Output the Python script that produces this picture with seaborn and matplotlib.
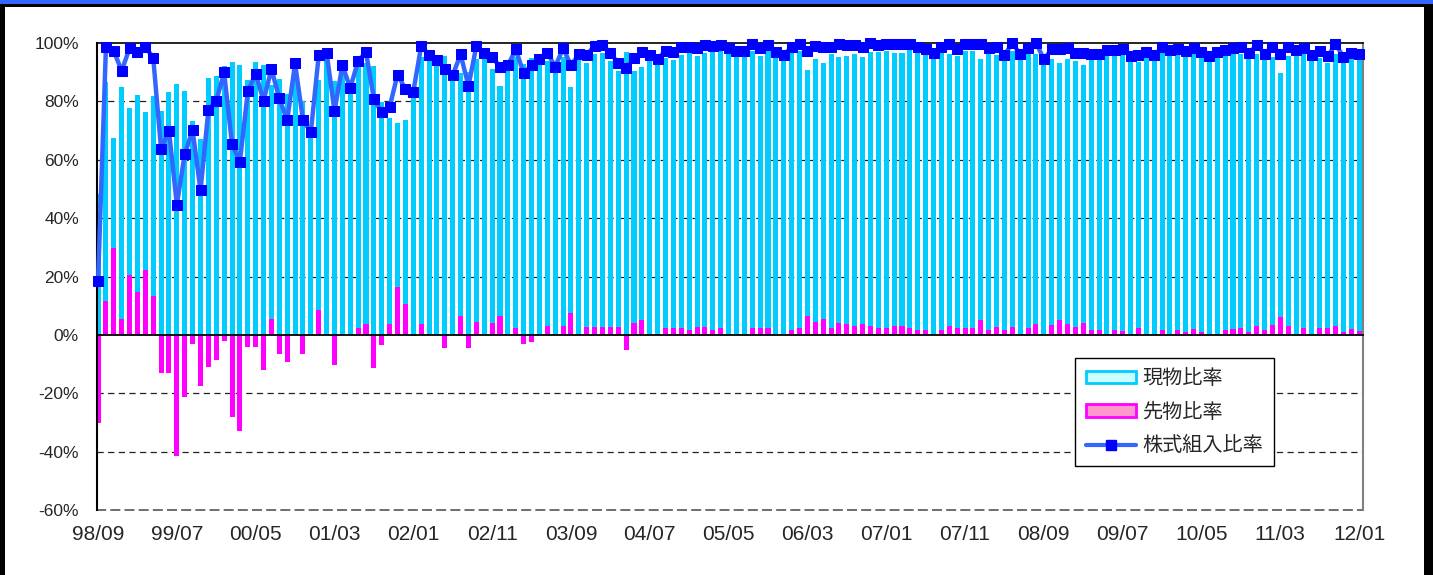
import numpy as np
import matplotlib.pyplot as plt
import seaborn as sns
from matplotlib.patches import Patch, Rectangle
from matplotlib.lines import Line2D

# monthly data 98/09 - 12/01 (percent)
tick_labels = ['98/09', '99/07', '00/05', '01/03', '02/01', '02/11', '03/09', '04/07', '05/05',
               '06/03', '07/01', '07/11', '08/09', '09/07', '10/05', '11/03', '12/01']

genbutsu = [48.4, 86.8, 67.6, 84.9, 77.7, 82.2, 76.4, 81.8, 76.7, 83.1,
            86.1, 83.4, 73.3, 67.0, 88.0, 88.8, 92.0, 93.4, 92.4, 87.4,
            93.5, 92.3, 85.5, 87.6, 82.7, 93.0, 80.0, 69.5, 87.3, 96.7,
            87.0, 92.4, 84.6, 91.7, 93.2, 92.0, 79.7, 74.2, 72.7, 73.7,
            83.8, 95.3, 95.9, 94.2, 95.4, 89.0, 89.6, 89.9, 94.5, 96.7,
            91.0, 85.4, 92.4, 95.3, 92.8, 95.0, 94.4, 93.7, 91.9, 95.2,
            84.8, 96.1, 93.2, 96.4, 96.6, 94.0, 90.3, 96.8, 90.5, 91.8,
            95.9, 94.4, 94.9, 94.3, 96.0, 96.9, 95.5, 96.6, 97.4, 97.1,
            98.2, 97.3, 97.4, 97.2, 95.7, 97.1, 96.8, 95.9, 97.0, 97.4,
            90.7, 94.4, 93.2, 96.4, 95.3, 95.7, 96.2, 95.1, 96.8, 97.0,
            97.4, 96.5, 96.7, 97.6, 97.0, 96.2, 96.5, 97.0, 96.4, 95.6,
            97.4, 97.3, 94.5, 96.8, 95.9, 94.2, 97.2, 96.2, 96.2, 96.2,
            94.5, 94.4, 93.0, 94.4, 93.9, 92.4, 94.4, 94.4, 97.5, 95.9,
            96.7, 95.5, 93.6, 97.0, 95.8, 96.8, 97.5, 96.2, 96.2, 96.4,
            95.9, 95.5, 96.8, 95.9, 96.2, 96.2, 95.5, 96.4, 94.7, 95.3,
            89.8, 95.5, 97.5, 96.2, 96.0, 94.7, 93.0, 96.4, 94.2, 94.7,
            94.7]

sakimono = [-30.1, 11.7, 29.6, 5.6, 20.5, 14.8, 22.2, 13.2, -13.1, -13.1,
            -41.5, -21.4, -3.2, -17.5, -11.0, -8.6, -2.1, -28.1, -33.0, -4.0,
            -4.0, -12.1, 5.6, -6.6, -9.2, 0.0, -6.5, 0.0, 8.5, 0.0,
            -10.4, 0.0, 0.0, 2.2, 3.7, -11.2, -3.5, 3.9, 16.5, 10.5,
            -0.5, 3.7, 0.0, 0.0, -4.4, 0.0, 6.5, -4.6, 4.5, 0.0,
            4.1, 6.5, 0.0, 2.5, -3.2, -2.6, 0.0, 3.0, 0.0, 3.0,
            7.6, 0.0, 2.7, 2.7, 2.7, 2.7, 2.7, -5.2, 4.2, 5.2,
            0.0, 0.0, 2.5, 2.5, 2.5, 1.6, 2.7, 2.7, 1.7, 2.2,
            0.0, 0.0, 0.0, 2.5, 2.5, 2.2, 0.0, 0.0, 1.6, 2.4,
            6.5, 4.5, 5.6, 2.3, 4.2, 3.7, 3.1, 3.7, 3.1, 2.2,
            2.2, 3.2, 3.1, 2.2, 1.7, 1.6, 0.0, 1.6, 3.1, 2.3,
            2.3, 2.3, 5.0, 1.6, 2.7, 1.7, 2.7, 0.0, 2.2, 3.8,
            0.0, 3.4, 5.0, 3.9, 2.7, 4.2, 1.7, 1.7, 0.0, 1.6,
            1.4, 0.0, 2.2, 0.0, 0.0, 1.7, 0.0, 1.7, 1.0, 2.0,
            1.0, 0.0, 0.0, 1.7, 2.0, 2.3, 1.0, 2.9, 1.7, 3.4,
            6.3, 3.2, 0.0, 2.2, 0.0, 2.4, 2.4, 3.2, 1.1, 2.0,
            1.4]

kumiire = [18.3, 98.5, 97.2, 90.5, 98.2, 97.0, 98.6, 95.0, 63.6, 70.0,
           44.6, 62.0, 70.1, 49.5, 77.0, 80.2, 89.9, 65.3, 59.4, 83.4,
           89.5, 80.2, 91.1, 81.0, 73.5, 93.0, 73.5, 69.5, 95.8, 96.7,
           76.6, 92.4, 84.6, 93.9, 96.9, 80.8, 76.2, 78.1, 89.2, 84.2,
           83.3, 99.0, 95.9, 94.2, 91.0, 89.0, 96.1, 85.3, 99.0, 96.7,
           95.1, 91.9, 92.4, 97.8, 89.6, 92.4, 94.4, 96.7, 91.9, 98.2,
           92.4, 96.1, 95.9, 99.1, 99.3, 96.7, 93.0, 91.6, 94.7, 97.0,
           95.9, 94.4, 97.4, 96.8, 98.5, 98.5, 98.2, 99.3, 99.1, 99.3,
           98.2, 97.3, 97.4, 99.7, 98.2, 99.3, 96.8, 95.9, 98.6, 99.8,
           97.2, 98.9, 98.8, 98.7, 99.5, 99.4, 99.3, 98.8, 99.9, 99.2,
           99.6, 99.7, 99.8, 99.8, 98.7, 97.8, 96.5, 98.6, 99.5, 97.9,
           99.7, 99.6, 99.5, 98.4, 98.6, 95.9, 99.9, 96.2, 98.4, 100.0,
           94.5, 97.8, 98.0, 98.3, 96.6, 96.6, 96.1, 96.1, 97.5, 97.5,
           98.1, 95.5, 95.8, 97.0, 95.8, 98.5, 97.5, 97.9, 97.2, 98.4,
           96.9, 95.5, 96.8, 97.6, 98.2, 98.5, 96.5, 99.3, 96.4, 98.7,
           96.1, 98.7, 97.5, 98.4, 96.0, 97.1, 95.4, 99.6, 95.3, 96.7,
           96.1]

sns.set_style('white')
plt.rcParams['font.family'] = ['Liberation Sans', 'Noto Sans CJK JP']

fig = plt.figure(figsize=(14.33, 5.75), dpi=100)
ax = fig.add_axes([0.0677, 0.1130, 0.8835, 0.8122])

months = np.arange(len(genbutsu))
sns.barplot(x=months, y=genbutsu, color='#00CCFF', saturation=1, width=0.64,
            linewidth=0, native_scale=True, ax=ax, zorder=1)
sns.barplot(x=months, y=sakimono, color='#FF00FF', saturation=1, width=0.64,
            linewidth=0, native_scale=True, ax=ax, zorder=1.5)
sns.lineplot(x=months, y=kumiire, color='#3366FF', lw=3.2, marker='s', markersize=7.5,
             markerfacecolor='#0000FF', markeredgecolor='#0000FF', errorbar=None,
             legend=False, clip_on=False, ax=ax, zorder=4)

ax.set_xlim(-0.13, 160.5)
ax.set_ylim(-60, 100)
yticks = list(range(-60, 101, 20))
ax.set_yticks(yticks, labels=[f'{v}%' for v in yticks])
ax.set_xlabel('')
ax.set_ylabel('')

ax.set_axisbelow(True)
ax.yaxis.grid(True, linestyle=(0, (5, 3.5)), color='#222222', lw=0.9)
for gl, v in zip(ax.get_ygridlines(), yticks):
    if v in (-60, 0, 100):
        gl.set_visible(False)

# category axis crossing at 0 with small ticks between months
ax.spines['bottom'].set_position(('data', 0))
ax.spines['bottom'].set_color('black')
ax.spines['bottom'].set_linewidth(1.3)
ax.set_xticks(months[:-1] + 0.5, labels=[])
ax.tick_params(axis='x', direction='in', length=5, width=1, color='#333333')
ax.tick_params(axis='y', length=0, pad=13, labelsize=12.5)

ax.spines['top'].set_color('black')
ax.spines['top'].set_linewidth(1.2)
ax.spines['left'].set_color('black')
ax.spines['left'].set_linewidth(1.5)
ax.spines['right'].set_color('#808080')
ax.spines['right'].set_linewidth(1.5)

# date labels along the bottom
sec = ax.secondary_xaxis('bottom')
sec.set_xticks(months[::10], labels=tick_labels)
sec.tick_params(length=0, pad=11, labelsize=15)
sec.spines['bottom'].set_linestyle((0, (5, 3.5)))
sec.spines['bottom'].set_color('#555555')
sec.spines['bottom'].set_linewidth(1.2)

handles = [
    Patch(facecolor='#CCFFFF', edgecolor='#00CCFF', lw=2, label='現物比率'),
    Patch(facecolor='#FF99CC', edgecolor='#FF00FF', lw=2, label='先物比率'),
    Line2D([], [], color='#3366FF', lw=3, marker='s', markersize=7,
           markerfacecolor='#0000FF', markeredgecolor='#0000FF', label='株式組入比率'),
]
leg = ax.legend(handles=handles, loc='upper left', bbox_to_anchor=(0.7725, 0.3255),
                borderaxespad=0, frameon=True, fancybox=False, edgecolor='black',
                framealpha=1, fontsize=14.5, handlelength=2.5, handleheight=0.6,
                labelspacing=0.72, borderpad=0.55, handletextpad=0.3)
leg.get_frame().set_linewidth(1.0)
leg.set_zorder(10)

# frame of the sheet
fig.add_artist(Rectangle((0, 1 - 4 / 575), 1, 4 / 575, transform=fig.transFigure,
                         color='#3366FF', lw=0))
fig.add_artist(Rectangle((0, 1 - 7 / 575), 1, 3 / 575, transform=fig.transFigure,
                         color='black', lw=0))
fig.add_artist(Rectangle((0, 0), 5 / 1433, 1 - 4 / 575, transform=fig.transFigure,
                         color='black', lw=0))
fig.add_artist(Rectangle((1 - 9 / 1433, 0), 9 / 1433, 1 - 4 / 575, transform=fig.transFigure,
                         color='black', lw=0))

fig.savefig('out.png', dpi=100)
